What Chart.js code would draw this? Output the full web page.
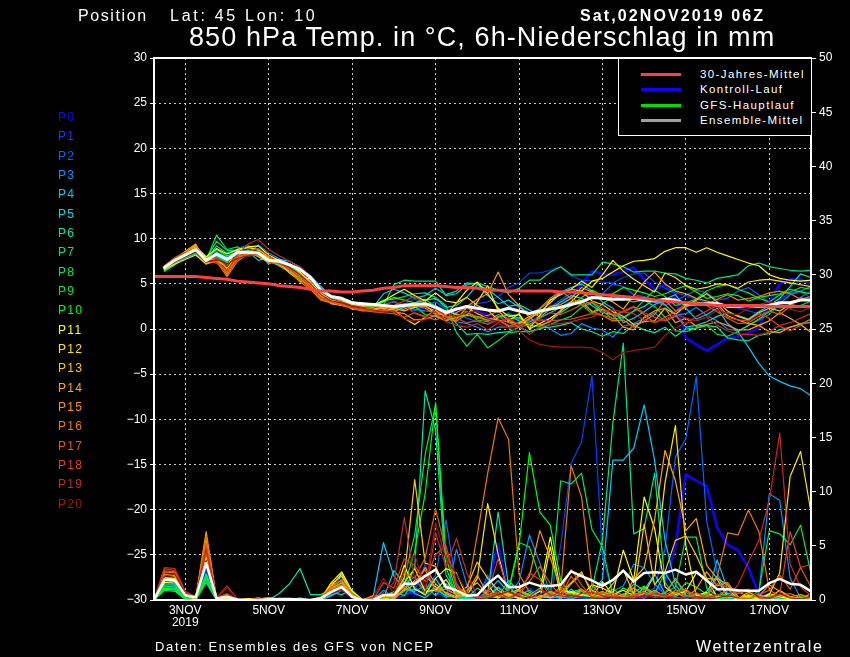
<!DOCTYPE html>
<html>
<head>
<meta charset="utf-8">
<script src="https://cdn.jsdelivr.net/npm/chart.js@4"></script>
<style>
html,body{margin:0;padding:0;background:#000;width:850px;height:657px;overflow:hidden}
canvas{position:absolute;left:0;top:0}
.t{position:absolute;color:#fff;font-family:"Liberation Sans",sans-serif;white-space:nowrap;line-height:1}
#legend{position:absolute;left:618px;top:59px;width:192px;height:76px;background:#000;border:1px solid #fff;border-top:0}
#legend i{position:absolute;left:22px;width:40px;height:3px}
#legend span{position:absolute;left:81px;color:#fff;font:11.5px "Liberation Sans",sans-serif;letter-spacing:1.4px;white-space:nowrap}
</style>
</head>
<body>
<canvas id="c" width="850" height="657"></canvas>
<div class="t" style="left:78px;top:8px;font-size:16px"><span style="letter-spacing:1.6px">Position</span>&nbsp;&nbsp;&nbsp;<span style="letter-spacing:2.7px;margin-left:9px">Lat: 45 Lon: 10</span></div>
<div class="t" style="left:580px;top:8px;font-size:16px;letter-spacing:2.1px;font-weight:bold">Sat,02NOV2019 06Z</div>
<div class="t" style="left:189px;top:24px;font-size:27px;letter-spacing:1.1px">850 hPa Temp. in °C, 6h-Niederschlag in mm</div>
<div class="t" style="left:155px;top:640px;font-size:13px;letter-spacing:1.65px">Daten: Ensembles des GFS von NCEP</div>
<div class="t" style="left:696px;top:639px;font-size:16px;letter-spacing:1.7px">Wetterzentrale</div>
<div id="members"></div>
<div id="legend"></div>
<script>
// x is the 6-hourly step since the run start (Sat 02NOV 06Z)
const tickSteps = [3, 11, 19, 27, 35, 43, 51, 59];
const tickLabels = [['3NOV', '2019'], '5NOV', '7NOV', '9NOV', '11NOV', '13NOV', '15NOV', '17NOV'];
const memberNames = ['P0','P1','P2','P3','P4','P5','P6','P7','P8','P9','P10','P11','P12','P13','P14','P15','P16','P17','P18','P19','P20'];
const memberColors = ['#1400ff','#0040ff','#0064ff','#0090ff','#00c8ff','#00dce6','#00e6a0','#00e678','#00e650','#00e632','#00ff00','#ffff00','#ffe600','#ffc800','#ffaa00','#ff9600','#f07800','#e65a00','#e63c1e','#c82828','#a01414'];
const legendNames = ['30-Jahres-Mittel', 'Kontroll-Lauf', 'GFS-Hauptlauf', 'Ensemble-Mittel'];
const legendColors = ['#ff4040', '#1400ff', '#00e000', '#a0a0a0'];

const climate = [5.8,5.8,5.8,5.8,5.8,5.7,5.6,5.5,5.3,5.2,5.1,5.0,4.8,4.7,4.6,4.4,4.2,4.2,4.1,4.1,4.2,4.3,4.5,4.6,4.8,4.8,4.8,4.8,4.7,4.6,4.6,4.5,4.3,4.3,4.2,4.2,4.2,4.2,4.2,4.1,4.1,4.0,3.9,3.8,3.7,3.6,3.5,3.4,3.2,3.1,3.0,2.9,2.7,2.7,2.6,2.6,2.6,2.6,2.6,2.5,2.5,2.5,2.5,2.5];
const meanTemp = [null,6.8,7.6,8.2,8.8,7.6,8.3,7.7,8.5,8.5,8.4,7.6,7.5,7.1,6.6,5.7,4.3,3.6,3.4,2.9,2.8,2.7,2.6,2.5,2.6,2.7,2.8,2.4,1.8,2.2,2.5,2.3,2.1,2.0,2.3,2.0,1.7,2.0,2.2,2.4,2.7,3.0,3.5,3.4,3.3,3.3,3.4,3.2,3.1,3.3,3.2,2.8,2.7,2.8,2.8,2.5,2.5,2.6,2.5,2.6,2.9,2.9,3.2,3.2];
const meanPrecip = [0,1.9,1.85,.45,.25,3.4,.15,.3,.05,0,0,.05,.1,.1,.05,0,.15,.75,1.2,.3,0,0,.45,.45,1.5,1.5,2.2,2.8,1.2,.9,.4,.45,1.5,2.25,1.2,1.2,1.6,1.3,1.3,1.4,2.65,2.2,1.8,1.3,1.85,2.7,1.7,2.5,2.55,2.5,2.8,2.35,2.6,1.8,1.0,1.0,.9,.85,.85,1.55,1.95,1.5,1.4,.8];

const t0 = [null,6.7,7.5,8.2,8.7,7.7,8.4,7.8,8.6,8.4,8.3,7.6,7.4,7.2,6.4,5.5,4.1,3.5,3.3,2.8,2.7,2.6,2.6,2.4,2.3,2.5,2.3,2.0,1.6,1.9,2.3,2.0,1.5,1.4,1.2,1.0,0.8,0.9,1.2,2.0,3.5,5.0,6.4,6.1,6.0,6.4,6.8,5.5,4.4,4.9,3.8,-1.0,-1.7,-2.4,-1.7,-1.0,-0.8,-0.4,0.1,3.0,5.0,5.5,5.5,5.0];
const t1 = [null,6.5,7.3,8.0,8.6,7.5,8.1,7.5,8.4,8.8,8.9,7.9,7.6,7.0,6.2,5.3,4.0,3.4,3.2,2.6,2.5,2.4,2.3,2.6,2.8,3.3,2.9,2.2,2.0,2.3,2.6,2.8,3.0,3.6,4.6,5.1,6.2,6.2,6.5,6.9,5.9,5.4,5.3,5.2,5.1,5.7,6.1,6.2,5.2,4.5,4.0,3.7,3.3,2.9,3.0,2.6,2.3,2.0,1.7,1.9,3.2,4.0,4.2,3.4];
const t2 = [null,6.6,7.6,8.3,8.9,7.9,8.7,8.0,8.9,9.3,8.6,7.8,7.4,6.8,5.9,4.9,3.8,3.3,3.1,2.6,2.4,2.2,2.0,2.3,2.4,2.0,2.6,3.0,2.2,1.7,1.2,0.8,0.6,1.2,1.8,1.1,0.7,1.5,2.4,3.2,4.0,4.3,3.3,3.9,5.0,4.7,3.8,3.6,3.0,2.6,3.1,3.7,4.3,4.0,3.2,3.4,4.2,4.6,3.8,2.9,2.3,2.7,3.5,4.2];
const t3 = [null,6.5,7.2,7.8,8.3,7.7,8.0,7.3,8.0,8.4,9.3,8.4,7.8,7.2,6.0,4.8,3.7,3.2,2.9,2.5,2.3,2.4,2.7,3.0,2.5,2.2,2.0,1.9,1.3,0.8,0.6,0.2,-0.3,0.2,0.2,0.3,1.0,0.5,0.0,-0.7,-0.5,0.6,0.1,-0.1,-0.9,0.3,0.6,1.2,1.8,0.9,1.5,1.7,2.4,1.5,0.9,0.0,-0.2,0.4,1.0,1.6,2.8,3.8,4.2,4.7];
const t4 = [null,6.4,7.2,7.9,8.4,7.3,8.5,7.9,8.1,8.6,7.6,7.9,7.5,6.9,6.2,4.9,3.3,3.1,3.4,3.0,2.6,2.4,3.9,4.4,4.0,3.4,3.7,4.5,3.8,4.2,5.1,5.0,3.7,2.8,3.2,2.4,1.8,2.2,3.2,4.1,4.6,5.0,4.2,3.0,2.3,0.7,1.2,1.9,2.7,3.3,3.8,2.3,1.1,1.6,2.3,0.6,-0.3,-2.0,-3.8,-5.2,-5.8,-6.3,-6.6,-7.4];
const t5 = [null,6.6,7.6,8.4,9.0,7.4,8.1,7.6,8.3,8.7,8.4,7.2,7.7,7.5,6.8,5.9,4.7,3.6,3.4,3.0,2.7,2.8,2.5,2.0,2.4,2.9,3.2,3.4,2.4,2.6,3.5,4.9,4.4,3.5,2.5,2.7,2.1,1.3,2.2,3.0,3.7,3.4,2.6,1.8,1.6,1.2,2.0,2.5,3.3,2.7,1.6,0.2,0.4,0.8,1.4,1.8,1.5,1.1,1.9,2.6,3.4,4.7,6.1,5.7];
const t6 = [null,6.5,7.4,8.1,8.5,7.6,9.2,8.4,8.7,8.1,8.2,7.5,7.0,6.4,5.8,5.0,4.0,3.4,3.2,2.8,2.9,2.6,2.5,2.5,2.7,2.4,2.9,2.6,2.0,0.6,-0.6,-0.5,-0.6,-0.4,-0.3,0.2,-0.3,0.1,0.2,0.4,0.7,0.0,-0.3,-0.8,-0.3,-0.5,0.4,-0.1,-0.4,0.2,-0.8,0.0,0.1,0.4,0.2,-1.0,-1.2,-1.3,-0.7,-0.5,-0.1,0.2,0.6,0.7];
const t7 = [null,6.7,7.7,8.3,8.8,7.8,9.7,8.7,8.7,8.2,8.4,7.8,7.0,6.3,5.6,4.8,3.9,3.2,3.0,2.7,2.5,2.2,2.6,4.9,5.4,5.3,5.3,5.3,3.7,3.9,4.9,5.1,4.7,4.3,4.0,4.5,5.4,5.4,6.3,6.9,6.0,6.0,6.0,7.4,7.2,6.9,6.3,6.4,6.4,6.2,6.1,5.6,5.4,5.1,5.6,5.8,6.0,7.0,7.3,6.9,6.7,6.5,6.4,6.5];
const t8 = [null,6.5,7.3,8.0,8.4,7.6,10.4,8.8,9.1,8.2,8.7,7.4,7.6,6.7,5.5,4.7,3.8,3.0,2.9,2.5,2.4,2.5,3.2,3.3,3.6,3.9,4.0,3.5,2.6,-0.4,-1.9,-0.6,-2.1,-1.3,-0.4,-0.3,-0.3,0.0,0.5,1.0,1.4,2.4,2.9,2.0,1.1,1.3,2.0,3.2,4.3,3.6,2.6,2.9,3.3,4.2,4.7,4.9,4.4,4.0,3.4,3.0,3.8,4.1,4.6,4.4];
const t9 = [null,6.4,7.1,7.9,8.4,7.6,8.0,7.4,8.5,8.3,8.1,7.5,7.5,7.2,6.3,5.0,3.7,3.1,2.7,2.4,2.3,2.3,2.4,2.3,2.8,2.5,1.6,1.4,0.9,1.3,1.9,1.0,0.8,1.6,1.1,1.3,0.5,1.2,1.8,2.4,3.0,2.7,1.7,2.8,3.6,3.3,3.0,3.2,2.5,1.3,-0.2,-0.3,0.1,0.4,-0.6,-0.8,-0.3,0.4,1.1,1.9,2.7,2.3,2.6,3.1];
const t10 = [null,6.5,7.4,8.2,8.7,7.8,8.8,8.1,8.5,8.6,8.5,7.9,7.5,7.0,5.7,4.8,3.6,3.3,3.0,2.5,2.4,2.5,3.0,3.5,3.2,2.9,3.3,2.5,1.8,1.3,1.5,1.4,1.0,1.3,1.6,0.9,0.4,0.3,0.9,1.8,2.6,3.5,4.3,3.7,3.9,4.6,4.3,4.0,3.6,3.9,4.4,4.8,4.1,3.4,3.6,3.9,3.7,3.1,3.5,3.7,3.9,4.4,4.1,3.9];
const t11 = [null,6.6,7.6,8.5,9.1,8.0,8.9,8.3,8.8,9.1,9.2,8.2,7.6,7.1,6.3,5.2,3.9,3.2,3.1,2.7,2.6,2.7,3.1,3.8,4.4,3.7,3.1,4.0,3.1,2.9,4.3,5.2,3.9,2.3,1.4,1.6,0.0,0.6,1.2,2.0,3.0,4.2,5.3,5.6,6.3,7.0,7.5,7.6,7.8,8.6,9.0,9.0,8.5,9.0,8.5,8.1,7.7,7.3,7.0,6.0,5.6,5.4,5.3,5.4];
const t12 = [null,6.6,7.2,7.7,8.2,7.2,7.8,7.0,8.7,9.0,8.8,8.0,7.3,6.6,5.9,5.5,4.4,2.8,2.8,2.3,2.3,2.3,2.3,2.1,1.2,0.5,1.3,2.1,2.0,1.6,1.5,3.0,4.8,2.0,0.9,1.7,0.1,1.5,3.2,3.8,4.4,5.3,4.6,6.0,7.6,6.4,5.5,4.8,4.1,6.2,5.7,4.8,4.4,4.6,5.0,4.9,4.5,5.2,5.4,5.5,5.3,5.1,4.9,4.7];
const t13 = [null,6.6,7.5,8.3,9.3,7.3,7.8,6.7,8.2,8.6,8.0,7.4,7.3,6.2,5.3,4.9,3.7,2.8,2.6,2.4,2.2,2.2,1.9,2.3,2.0,2.4,2.6,1.7,1.6,2.9,3.5,2.6,2.1,1.0,0.8,0.6,1.1,1.9,2.9,4.0,4.4,4.2,3.1,2.7,1.9,1.4,0.5,0.8,0.9,2.3,1.6,2.6,3.2,3.9,3.0,2.0,1.4,1.0,1.8,2.3,2.0,2.7,2.5,2.4];
const t14 = [null,6.7,7.7,8.6,9.4,7.2,7.5,6.3,7.9,8.5,8.2,7.7,7.1,6.5,5.5,4.6,3.5,3.1,2.9,2.2,2.1,2.1,2.3,2.2,2.7,2.9,2.5,2.0,1.4,1.1,2.4,1.7,1.2,1.0,0.3,0.7,1.4,1.7,2.5,2.7,3.4,4.6,4.1,3.5,3.0,2.2,3.7,5.2,6.3,5.0,4.2,3.9,3.4,3.1,2.8,1.5,1.0,0.6,0.4,0.9,1.8,1.2,0.5,-0.4];
const t15 = [null,6.8,7.7,8.5,9.2,7.4,7.9,6.0,7.8,8.2,8.4,8.0,7.2,6.7,6.1,5.1,3.4,3.0,2.8,2.4,2.5,2.6,2.2,1.9,1.7,1.0,1.1,1.5,0.9,1.8,2.5,3.3,3.9,6.3,3.8,2.6,1.3,0.4,0.8,2.1,2.9,3.2,1.9,2.2,1.5,0.2,-0.1,1.3,2.0,2.3,0.7,1.2,0.3,0.5,0.8,0.4,-0.1,-0.1,0.4,-0.3,-0.4,0.2,0.5,1.1];
const t16 = [null,6.9,7.8,8.4,9.0,7.6,7.5,5.8,7.5,8.3,8.1,7.7,7.5,6.5,5.2,4.4,3.2,2.9,2.6,2.3,2.0,2.0,2.1,2.0,2.2,2.6,2.3,1.6,1.1,0.9,1.6,1.2,1.5,2.0,1.0,0.5,1.2,2.3,3.4,4.2,3.4,2.8,2.0,1.5,0.9,1.0,0.2,0.9,1.6,3.2,2.0,2.4,3.0,2.7,3.3,3.8,3.2,3.4,3.6,4.0,4.2,3.9,3.3,3.6];
const t17 = [null,7.0,7.9,8.5,8.9,7.6,7.3,6.3,7.7,8.4,8.6,7.4,7.2,6.8,5.5,4.5,3.4,3.0,2.7,2.3,2.1,1.9,1.8,1.7,1.3,1.8,1.4,1.0,1.5,2.4,1.9,1.3,0.9,1.4,0.7,0.3,0.4,1.3,1.8,1.6,2.1,2.7,3.0,2.3,1.6,1.9,2.4,1.6,0.7,1.3,1.9,2.8,3.0,2.6,1.9,1.2,0.6,0.7,1.4,2.0,1.6,2.5,3.5,3.0];
const t18 = [null,6.9,7.8,8.4,8.8,7.5,7.4,6.5,8.0,8.5,8.9,8.1,7.3,6.6,5.8,4.7,3.5,3.1,2.8,2.4,2.2,2.0,2.0,2.6,3.1,3.6,2.9,2.2,1.4,1.2,0.7,0.9,0.5,1.0,0.4,0.2,0.8,1.0,0.9,1.0,1.1,1.4,1.7,1.5,1.2,2.0,2.5,1.8,1.3,0.9,1.4,0.5,1.4,2.0,2.6,1.3,1.0,0.9,1.7,1.2,0.3,-0.2,0.4,1.1];
const t19 = [null,6.8,7.5,8.2,8.7,7.7,7.9,7.0,8.2,9.4,9.9,8.8,8.1,7.5,6.9,5.8,4.1,3.3,3.0,2.6,2.4,2.3,2.6,3.1,2.6,1.7,1.3,1.9,0.8,0.4,0.2,0.6,-0.1,0.7,1.2,0.5,-0.6,0.2,0.5,0.6,0.8,1.1,1.3,1.9,2.1,1.9,1.7,1.0,0.7,1.1,1.6,1.2,0.9,1.3,0.4,-0.2,-0.6,-0.6,-0.7,-0.3,0.4,0.7,1.2,1.7];
const t20 = [null,6.7,7.4,8.0,8.5,7.4,7.7,7.2,7.8,8.1,8.3,7.7,7.4,6.8,6.0,5.0,3.8,3.1,2.9,2.5,2.3,2.1,1.9,2.0,1.1,0.9,1.0,2.2,1.7,1.4,1.8,2.0,1.2,0.6,0.1,-0.2,-1.2,-1.7,-1.9,-2.0,-2.0,-2.0,-2.1,-2.6,-3.4,-2.6,-2.4,-2.2,-2.0,-0.7,0.1,0.7,1.0,1.3,2.1,1.7,1.6,2.3,2.7,3.0,2.8,2.2,1.9,2.4];

const p0 = [0,1.8,1.7,.3,0,3.0,0,.2,0,0,0,0,0,0,0,0,0,.4,.9,.2,0,0,0,.2,.8,.5,1.0,2.0,.3,1.5,.1,0,1.0,5.2,.5,0,0,.4,.2,.1,.3,0,.2,.1,0,.3,0,.1,.6,1.5,5.0,11.6,11.0,10.5,6.7,5.1,4.6,3.0,.5,.4,.1,0,0,0];
const p1 = [0,1.5,1.5,.3,0,2.5,0,.1,0,0,.1,0,0,0,0,0,0,.8,1.7,.5,0,0,0,.1,.4,.9,3.3,.7,.2,.6,.1,.4,1.9,.6,.3,.2,1.1,.4,.2,5.0,12.6,14.6,20.7,4.0,.5,.3,1.2,.4,.6,.2,.7,.5,.1,.3,.2,.1,0,.2,.1,0,.1,0,.2,.1];
const p2 = [0,1.7,1.6,.2,0,2.9,0,.1,0,0,0,.1,0,0,.1,0,0,1.0,2.2,.3,0,0,.4,.2,1.5,2.1,1.0,2.3,7.4,1.3,.6,.1,2.3,.4,.1,.5,.2,.8,.3,.5,.3,.2,.1,.4,.1,.6,.2,.5,1.1,4.7,13.2,14.9,20.6,7.3,2.5,.7,.3,.1,0,.2,0,.3,.1,0];
const p3 = [0,1.2,1.3,.2,0,2.3,0,0,0,0,0,0,0,0,0,0,0,1.2,2.5,.6,0,0,.9,.3,2.0,1.2,.4,1.3,.2,4.7,1.4,.3,.2,1.1,.5,1.7,6.0,3.4,.6,.2,.6,.9,.1,.2,.8,1.3,3.3,3.0,1.5,.5,.3,.1,.4,.2,1.0,.2,.1,0,.6,9.8,9.2,2.0,.2,.1];
const p4 = [0,1.1,1.1,.1,0,1.6,0,0,0,0,0,0,0,0,0,0,0,.6,1.1,.2,0,.2,5.3,2.2,1.0,.8,1.3,.4,1.5,.6,.3,.1,.8,1.8,.7,.2,.4,1.1,.2,.3,.1,.4,.7,1.9,12.9,12.9,14.0,18.0,12.9,5.5,1.4,.2,.5,.1,3.7,1.0,.3,.1,.2,.4,.1,0,.1,0];
const p5 = [0,1.4,1.4,.2,0,2.0,0,0,0,0,0,0,0,0,0,0,0,.4,.9,.4,0,0,.1,2.7,1.6,.6,.2,1.0,.4,.2,.1,.2,.3,1.2,.4,.9,.2,.3,.7,.1,1.0,.4,.2,.6,.3,.2,1.5,.9,2.4,.6,2.0,.4,.2,.8,2.2,.5,.1,.2,.4,.1,.3,.2,0,.1];
const p6 = [0,1.0,.9,.1,0,2.1,.1,0,0,0,0,0,.6,1.5,2.9,.5,.5,1.0,1.6,.2,0,0,0,.3,.8,3.0,19.3,15.7,2.3,.5,.2,1.1,.5,8.1,1.3,.2,.7,.1,.9,.3,.7,1.0,.2,.5,.1,.4,.2,1.2,.6,2.5,1.0,.2,.6,.4,.1,.3,.9,.2,.1,.3,.1,0,.2,.1];
const p7 = [0,.9,.8,.1,0,2.0,0,0,0,0,0,0,0,0,.2,0,0,.7,.5,.9,0,0,0,.1,.9,1.0,.6,1.1,.4,.3,.1,0,.5,.3,1.8,.8,.5,.2,.4,1.2,.6,.3,1.0,5.5,16.3,23.7,6.1,6.6,11.7,1.6,.3,.9,.2,.1,.4,.2,.6,.9,.1,.2,.5,.2,.1,0];
const p8 = [0,1.3,1.2,.2,0,1.8,0,0,0,0,0,0,0,0,0,0,0,.5,1.3,.6,0,0,.2,.5,2.0,6.0,13.4,18.0,3.0,.4,.6,.2,.3,.7,.1,.4,.9,.2,.3,11.0,10.7,11.7,6.5,4.9,.4,.2,.5,.8,.3,.7,1.2,5.8,5.8,1.1,.4,.6,.2,.3,.8,6.4,6.1,5.1,6.9,2.4];
const p9 = [0,1.6,1.5,.2,0,1.9,.1,.1,0,0,0,0,0,0,0,0,0,.9,1.6,.7,0,0,.3,.8,.4,1.8,.9,2.0,.5,.2,.4,.1,.2,.4,.9,5.3,4.9,2.1,.6,.3,.2,.8,.1,.3,1.0,.4,.7,.2,.9,.3,.5,1.6,1.2,.5,.2,.1,.3,.1,.5,.2,0,.1,.3,.2];
const p10 = [0,1.1,1.0,.2,0,2.4,0,0,0,0,0,0,0,0,0,0,0,1.1,1.9,.4,0,0,0,.6,1.3,4.5,9.8,18.2,3.9,.7,.3,.2,.5,.2,.8,5.0,13.6,8.1,6.9,1.8,.4,.9,.2,.6,.3,1.1,.7,1.3,.5,.2,.9,.4,.1,.6,.3,.5,.8,.2,.1,.4,.2,.1,.3,0];
const p11 = [0,1.6,1.7,.4,.1,3.4,0,.2,0,.1,.1,.2,.1,0,0,0,.1,1.6,2.6,.8,0,0,.1,.3,3.2,1.0,.5,2.0,2.9,2.5,.3,.5,1.4,.2,.6,.1,.3,.8,5.8,.9,.7,.4,1.4,1.1,.6,4.6,1.8,9.5,6.6,1.2,.5,.8,2.5,1.9,.3,1.0,.2,.4,.1,.6,.3,.1,.2,.1];
const p12 = [0,1.9,2.0,.4,.1,4.0,.1,.2,0,.1,0,.1,0,0,0,0,0,1.3,2.4,.5,0,.1,.3,.7,1.6,2.9,.8,.9,1.9,.4,.4,2.0,8.9,4.2,.5,.2,.4,.1,4.9,.3,.8,.5,.3,1.7,.5,.9,.4,.6,2.3,10.8,16.1,5.0,.4,.7,.2,.4,.1,.3,.1,.5,2.5,11.4,13.7,8.1];
const p13 = [0,2.1,2.0,.5,.1,5.0,.1,.3,0,0,.1,.1,.1,0,0,0,.2,1.5,2.2,.6,0,.2,.4,.3,2.1,11.1,3.4,3.1,1.0,.5,1.2,3.5,2.0,.9,.3,.6,.1,.4,.2,.7,1.6,2.6,.5,.3,1.5,2.8,.5,7.0,1.4,2.6,5.5,5.9,4.1,2.0,1.9,.3,.2,.7,.4,.2,.9,.3,.1,.2];
const p14 = [0,2.3,2.2,.5,.1,5.6,.1,.3,0,0,.1,0,.1,0,0,0,.2,1.3,1.8,.5,0,.3,.5,.1,1.0,1.8,2.3,1.2,.7,.3,.9,1.6,.4,.2,.6,1.0,.4,.2,.8,.3,1.5,2.4,.9,.3,.7,.2,1.9,3.0,7.4,13.8,11.0,6.4,7.5,3.2,2.0,1.4,.3,.5,.2,.1,.4,.2,.1,.6];
const p15 = [0,2.4,2.3,.6,.2,6.3,.1,.4,0,0,.2,0,.1,0,0,0,.3,1.1,1.6,.3,0,.4,.3,.2,.9,1.4,3.0,1.5,.6,.2,.7,2.3,.5,.7,.2,.9,2.2,6.4,3.9,1.0,.3,1.0,.4,.8,.3,.5,1.1,.4,.9,.3,.7,.2,1.0,2.6,1.3,1.6,.3,.2,.4,1.4,.8,.3,.5,.2];
const p16 = [0,2.6,2.5,.6,.2,5.9,.2,.4,0,0,.1,0,0,0,0,0,.1,1.0,1.4,.4,0,.3,.2,.3,1.2,1.6,2.8,.8,1.0,.5,.6,6.0,11.7,16.8,14.8,2.4,.7,.2,.6,.9,12.4,9.5,1.4,.3,.2,.4,.2,1.1,.4,.6,1.9,.7,.2,.3,2.1,6.2,6.0,8.3,6.3,.9,.4,.6,.2,.1];
const p17 = [0,2.7,2.6,.7,.2,5.2,.2,.5,0,0,.2,0,.1,0,0,0,.2,1.2,1.9,.6,0,.1,.5,.6,2.5,2.0,3.9,8.4,4.5,1.2,.4,.6,.9,.4,.2,.5,1.7,3.1,1.5,.4,2.2,.9,.3,.7,.2,.1,.5,.2,.8,.3,.6,1.0,.3,.4,1.5,1.2,.2,.1,.5,.9,2.3,1.0,3.0,1.2];
const p18 = [0,2.9,2.7,.7,.2,4.4,.2,.6,0,0,.1,0,0,0,0,0,.1,.9,1.2,.2,0,0,1.6,1.1,3.8,3.2,1.7,4.2,5.0,1.5,.3,.2,.6,3.8,.7,.4,2.5,1.9,.3,.8,2.8,1.4,.2,.3,.6,.1,.4,.7,.2,.5,.9,.3,.7,.2,.4,.9,.6,1.0,.2,.1,.5,6.3,3.0,3.3];
const p19 = [0,3.0,2.9,.8,.3,4.8,.2,1.3,.1,0,.1,0,0,0,0,0,.1,.8,1.0,.3,0,0,.7,1.6,7.6,1.9,.6,6.2,3.0,5.7,2.5,.3,.4,.7,.2,.6,.3,1.0,.5,.4,.2,.6,.7,.4,.2,.1,.3,.2,.6,.4,.2,.3,.1,.2,.5,.3,1.4,3.5,5.5,9.2,15.4,3.3,1.2,.4];
const p20 = [0,2.2,2.4,.6,.2,3.6,.2,1.1,.1,0,0,0,0,0,0,0,.1,.6,.9,.2,0,.2,2.0,.6,2.7,4.2,1.1,7.1,3.8,2.4,.7,.1,.2,.5,.8,.3,.2,.5,.9,.6,.4,.3,.2,.1,.3,.2,.1,.4,.3,.2,.1,.2,.3,.1,.2,.4,.2,.9,.3,.2,.6,.2,.1,.3];

const tempMembers = [t0,t1,t2,t3,t4,t5,t6,t7,t8,t9,t10,t11,t12,t13,t14,t15,t16,t17,t18,t19,t20];
const precipMembers = [p0,p1,p2,p3,p4,p5,p6,p7,p8,p9,p10,p11,p12,p13,p14,p15,p16,p17,p18,p19,p20];

// side list of the members
memberNames.forEach((name, i) => {
	const d = document.createElement('div');
	d.className = 't';
	d.textContent = name;
	d.style.cssText = `left:58px;top:${111 + i * 19.33}px;font-size:12px;letter-spacing:1.3px;color:${memberColors[i]}`;
	document.getElementById('members').appendChild(d);
});

legendNames.forEach((name, i) => {
	const y = [14, 29, 45, 60][i];
	document.getElementById('legend').insertAdjacentHTML('beforeend',
		`<i style="top:${y}px;background:${legendColors[i]}"></i><span style="top:${y - 5}px">${name}</span>`);
});

function toPoints(values) {
	return values.map((v, i) => ({x: i, y: v}));
}

const datasets = [];
tempMembers.forEach((values, i) => {
	datasets.push({label: memberNames[i] + ' T', data: toPoints(values), yAxisID: 'y', borderColor: memberColors[i], borderWidth: i === 0 ? 2.5 : 1.2, order: 30 - i});
});
precipMembers.forEach((values, i) => {
	datasets.push({label: memberNames[i] + ' RR', data: toPoints(values), yAxisID: 'y2', borderColor: memberColors[i], borderWidth: i === 0 ? 2.5 : 1.2, order: 30 - i});
});
datasets.push({label: 'Ensemble-Mittel T', data: toPoints(meanTemp), yAxisID: 'y', borderColor: '#fff', borderWidth: 3, order: 2});
datasets.push({label: 'Ensemble-Mittel RR', data: toPoints(meanPrecip), yAxisID: 'y2', borderColor: '#fff', borderWidth: 2.5, order: 2});
datasets.push({label: '30-Jahres-Mittel', data: toPoints(climate), yAxisID: 'y', borderColor: '#ff4040', borderWidth: 3, order: 1});

const frame = {
	id: 'frame',
	afterDatasetsDraw(chart) {
		const a = chart.chartArea, ctx = chart.ctx;
		ctx.save();
		ctx.strokeStyle = '#fff';
		ctx.lineWidth = 2;
		ctx.strokeRect(a.left, a.top, a.right - a.left, a.bottom - a.top);
		ctx.restore();
	}
};

const axisFont = {family: '"Liberation Sans"', size: 12, lineHeight: 1};
const dotted = {display: false, dash: [2, 3]};

new Chart(document.getElementById('c'), {
	type: 'line',
	data: {datasets},
	plugins: [frame],
	options: {
		responsive: false,
		animation: false,
		devicePixelRatio: 1,
		parsing: false,
		normalized: true,
		events: [],
		layout: {padding: {top: 58}},
		elements: {point: {radius: 0}, line: {tension: 0, borderCapStyle: 'round', borderJoinStyle: 'round'}},
		plugins: {legend: {display: false}, title: {display: false}, tooltip: {enabled: false}},
		scales: {
			x: {
				type: 'linear', min: 0, max: 63,
				afterFit: s => { s.height = 57; },
				afterBuildTicks: s => { s.ticks = tickSteps.map(v => ({value: v})); },
				ticks: {
					color: '#fff', font: axisFont, padding: 5, maxRotation: 0, autoSkip: false,
					callback: v => tickLabels[tickSteps.indexOf(v)]
				},
				grid: {color: '#ccc', lineWidth: 1, drawTicks: false},
				border: dotted
			},
			y: {
				position: 'left', min: -30, max: 30,
				afterFit: s => { s.width = 154; },
				ticks: {color: '#fff', font: axisFont, stepSize: 5, padding: 3, callback: v => String(v).replace('-', '\u2212')},
				grid: {color: '#ccc', lineWidth: 1, tickLength: 4, tickColor: '#fff', tickBorderDash: []},
				border: dotted
			},
			y2: {
				position: 'right', min: 0, max: 50,
				afterFit: s => { s.width = 39; },
				ticks: {color: '#fff', font: axisFont, stepSize: 5, padding: 3},
				grid: {drawOnChartArea: false, tickLength: 5, tickColor: '#fff'},
				border: {display: false}
			}
		}
	}
});
</script>
</body>
</html>
